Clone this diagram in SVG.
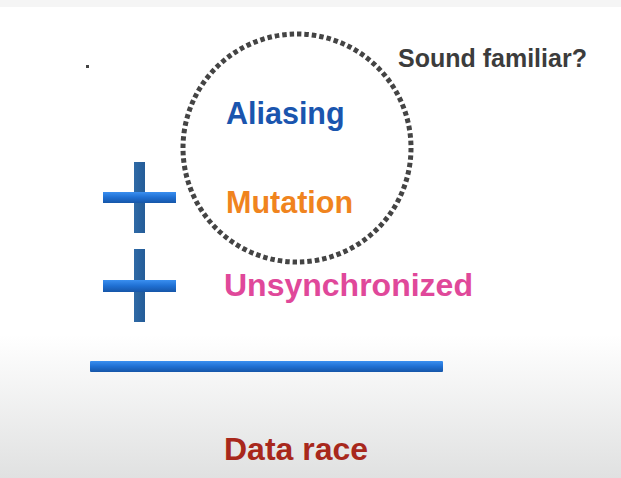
<svg xmlns="http://www.w3.org/2000/svg" width="621" height="478" viewBox="0 0 621 478">
  <defs>
    <linearGradient id="bg" x1="0" y1="0" x2="0" y2="1">
      <stop offset="0" stop-color="#ffffff"/>
      <stop offset="0.7" stop-color="#ffffff"/>
      <stop offset="1" stop-color="#e0e1e1"/>
    </linearGradient>
    <linearGradient id="barH" x1="0" y1="0" x2="0" y2="1">
      <stop offset="0" stop-color="#3a8ff0"/>
      <stop offset="0.5" stop-color="#1f6fd2"/>
      <stop offset="1" stop-color="#1656a8"/>
    </linearGradient>
    <linearGradient id="barV" x1="0" y1="0" x2="1" y2="0">
      <stop offset="0" stop-color="#2f6aa6"/>
      <stop offset="1" stop-color="#245c98"/>
    </linearGradient>
    <style>
      .lbl { font-family: "Liberation Sans", Arial, sans-serif; font-weight: bold; }
      .ring { fill: none; stroke: #444444; stroke-width: 5; stroke-dasharray: 0.6 0.4; }
    </style>
  </defs>

  <!-- background -->
  <rect x="0" y="0" width="621" height="478" fill="url(#bg)"/>
  <rect x="0" y="0" width="621" height="7" fill="#f5f5f5"/>
  <rect x="86" y="65" width="3" height="3" fill="#444444"/>

  <!-- dotted ring round the first two terms -->
  <g id="ring">
    <circle class="ring" cx="297" cy="148" r="114" pathLength="96"/>
  </g>

  <g id="sound-familiar">
    <text class="lbl" x="398" y="67" font-size="25" fill="#3c3c3c">Sound familiar?</text>
  </g>

  <g id="aliasing">
    <text class="lbl" x="226" y="124" font-size="30.5" fill="#1a55ae">Aliasing</text>
  </g>

  <g id="plus-1">
    <rect x="134" y="162" width="11" height="71" fill="url(#barV)"/>
    <rect x="103" y="192" width="73" height="11" fill="url(#barH)"/>
  </g>

  <g id="mutation">
    <text class="lbl" x="226" y="213" font-size="30.5" fill="#f0841e">Mutation</text>
  </g>

  <g id="plus-2">
    <rect x="134" y="249" width="11" height="73" fill="url(#barV)"/>
    <rect x="103" y="280" width="73" height="12" fill="url(#barH)"/>
  </g>

  <g id="unsynchronized">
    <text class="lbl" x="224" y="296" font-size="32" fill="#e0489a">Unsynchronized</text>
  </g>

  <g id="sum-line">
    <rect x="90" y="361" width="353" height="11" rx="1" fill="url(#barH)"/>
  </g>

  <g id="data-race">
    <text class="lbl" x="224" y="460" font-size="32" fill="#a8281c">Data race</text>
  </g>
</svg>
